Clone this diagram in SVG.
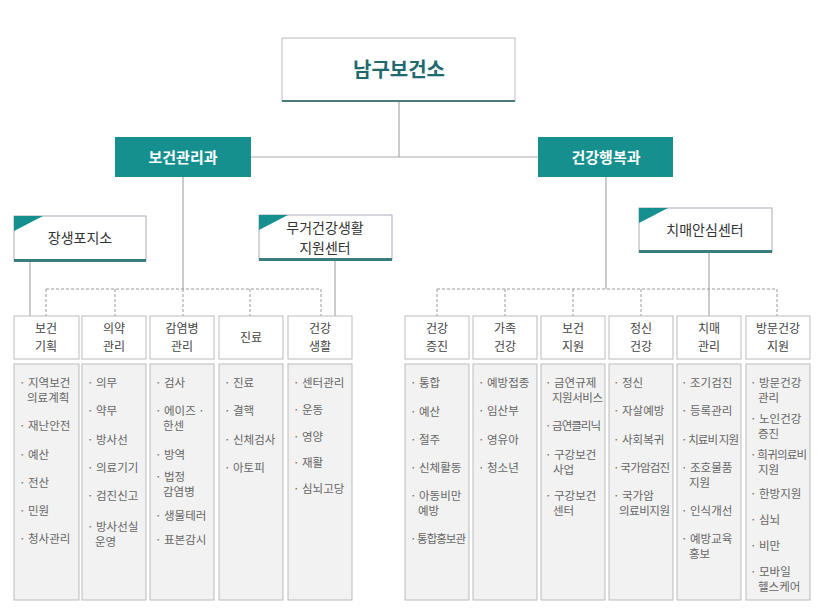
<svg xmlns="http://www.w3.org/2000/svg" width="821" height="610" viewBox="0 0 821 610">
<style>
text{font-family:"Noto Sans CJK KR","Noto Sans",sans-serif}
.ln{stroke:#aaa;stroke-width:1.2;fill:none}
.dl{stroke:#999;stroke-width:1;stroke-dasharray:3,2;fill:none}
.hd{fill:#fff;stroke:#bbb;stroke-width:1}
.ls{fill:#f2f2f2;stroke:#bbb;stroke-width:1}
.ht{font-size:12px;fill:#444;text-anchor:middle}
.it{font-size:11.5px;fill:#666}
.dept{fill:#15908f}
.dt{font-size:15px;fill:#fff;text-anchor:middle;font-weight:bold}
.sc{fill:#fff;stroke:#aab;stroke-width:1}
.st{font-size:14px;fill:#333;text-anchor:middle}
</style>
<rect width="821" height="610" fill="#fff"/>
<g id="connectors">
<path class="ln" d="M399 101V157M251 157H538M183 177V289M606 177V289M30 261V316M335 260V316M709 252V316"/>
<path class="dl" d="M46 289H321M46 289V316M115 289V316M183 289V316M250 289V316M321 289V316"/>
<path class="dl" d="M437 289H777M437 289V316M505 289V316M573 289V316M641 289V316M777 289V316"/>
</g>
<g id="root"><rect x="282" y="38" width="233" height="63" fill="#fff" stroke="#bbb"/><line x1="282" y1="101" x2="515" y2="101" stroke="#4a7a7a" stroke-width="2"/><text x="399" y="77" font-size="20" font-weight="bold" fill="#1f6a6e" text-anchor="middle">남구보건소</text></g>
<g id="dept1"><rect class="dept" x="115" y="137" width="136" height="40"/><text class="dt" x="183" y="163">보건관리과</text></g>
<g id="dept2"><rect class="dept" x="538" y="137" width="135" height="40"/><text class="dt" x="606" y="163">건강행복과</text></g>
<g id="center1"><rect class="sc" x="14" y="216" width="132" height="45"/><rect x="14" y="259" width="132" height="3" fill="#3b7c7c"/><path d="M14 216H43L14 231Z" fill="#15908f"/><text class="st" x="80" y="243">장생포지소</text></g>
<g id="center2"><rect class="sc" x="259" y="215" width="133" height="45"/><rect x="259" y="258" width="133" height="3" fill="#3b7c7c"/><path d="M259 215H288L259 230Z" fill="#15908f"/><text class="st" x="325" y="233" font-size="13.5">무거건강생활</text><text class="st" x="325" y="253" font-size="13.5">지원센터</text></g>
<g id="center3"><rect class="sc" x="639" y="208" width="133" height="44"/><rect x="639" y="250" width="133" height="3" fill="#3b7c7c"/><path d="M639 208H668L639 223Z" fill="#15908f"/><text class="st" x="705" y="235">치매안심센터</text></g>

<g id="t1"><rect class="hd" x="14" y="316" width="65" height="43"/><text class="ht" x="46" y="333">보건</text><text class="ht" x="46" y="351">기획</text>
<rect class="ls" x="14" y="364" width="65" height="236"/>
<text class="it" x="19" y="387">· 지역보건</text><text class="it" x="27" y="402">의료계획</text><text class="it" x="19" y="430">· 재난안전</text><text class="it" x="19" y="459">· 예산</text><text class="it" x="19" y="487">· 전산</text><text class="it" x="19" y="515">· 민원</text><text class="it" x="19" y="543">· 청사관리</text></g>
<g id="t2"><rect class="hd" x="82" y="316" width="64" height="43"/><text class="ht" x="114" y="333">의약</text><text class="ht" x="114" y="351">관리</text>
<rect class="ls" x="82" y="364" width="64" height="236"/>
<text class="it" x="87" y="387">· 의무</text><text class="it" x="87" y="415">· 약무</text><text class="it" x="87" y="444">· 방사선</text><text class="it" x="87" y="472">· 의료기기</text><text class="it" x="87" y="500">· 검진신고</text><text class="it" x="87" y="531">· 방사선실</text><text class="it" x="95" y="546">운영</text></g>
<g id="t3"><rect class="hd" x="150" y="316" width="64" height="43"/><text class="ht" x="182" y="333">감염병</text><text class="ht" x="182" y="351">관리</text>
<rect class="ls" x="150" y="364" width="64" height="236"/>
<text class="it" x="155" y="387">· 검사</text><text class="it" x="155" y="415">· 에이즈 ·</text><text class="it" x="163" y="430">한센</text><text class="it" x="155" y="459">· 방역</text><text class="it" x="155" y="481">· 법정</text><text class="it" x="163" y="496">감염병</text><text class="it" x="155" y="520">· 생물테러</text><text class="it" x="155" y="544">· 표본감시</text></g>
<g id="t4"><rect class="hd" x="219" y="316" width="64" height="43"/><text class="ht" x="251" y="342">진료</text>
<rect class="ls" x="219" y="364" width="64" height="236"/>
<text class="it" x="224" y="387">· 진료</text><text class="it" x="224" y="415">· 결핵</text><text class="it" x="224" y="444">· 신체검사</text><text class="it" x="224" y="472">· 아토피</text></g>
<g id="t5"><rect class="hd" x="288" y="316" width="64" height="43"/><text class="ht" x="320" y="333">건강</text><text class="ht" x="320" y="351">생활</text>
<rect class="ls" x="288" y="364" width="64" height="236"/>
<text class="it" x="293" y="387">· 센터관리</text><text class="it" x="293" y="414">· 운동</text><text class="it" x="293" y="441">· 영양</text><text class="it" x="293" y="467">· 재활</text><text class="it" x="293" y="493">· 심뇌고당</text></g>

<g id="t6"><rect class="hd" x="405" y="316" width="64" height="43"/><text class="ht" x="437" y="333">건강</text><text class="ht" x="437" y="351">증진</text>
<rect class="ls" x="405" y="364" width="64" height="236"/>
<text class="it" x="410" y="387">· 통합</text><text class="it" x="410" y="416">· 예산</text><text class="it" x="410" y="444">· 절주</text><text class="it" x="410" y="472">· 신체활동</text><text class="it" x="410" y="500">· 아동비만</text><text class="it" x="418" y="515">예방</text><text class="it" x="410" y="543" textLength="56">· 통합홍보관</text></g>
<g id="t7"><rect class="hd" x="473" y="316" width="64" height="43"/><text class="ht" x="505" y="333">가족</text><text class="ht" x="505" y="351">건강</text>
<rect class="ls" x="473" y="364" width="64" height="236"/>
<text class="it" x="478" y="387">· 예방접종</text><text class="it" x="478" y="415">· 임산부</text><text class="it" x="478" y="444">· 영유아</text><text class="it" x="478" y="472">· 청소년</text></g>
<g id="t8"><rect class="hd" x="541" y="316" width="64" height="43"/><text class="ht" x="573" y="333">보건</text><text class="ht" x="573" y="351">지원</text>
<rect class="ls" x="541" y="364" width="64" height="236"/>
<text class="it" x="545" y="387">· 금연규제</text><text class="it" x="552" y="402" textLength="51">지원서비스</text><text class="it" x="545" y="430" textLength="56">· 금연클리닉</text><text class="it" x="545" y="459">· 구강보건</text><text class="it" x="553" y="474">사업</text><text class="it" x="545" y="500">· 구강보건</text><text class="it" x="553" y="515">센터</text></g>
<g id="t9"><rect class="hd" x="609" y="316" width="64" height="43"/><text class="ht" x="641" y="333">정신</text><text class="ht" x="641" y="351">건강</text>
<rect class="ls" x="609" y="364" width="64" height="236"/>
<text class="it" x="613" y="387">· 정신</text><text class="it" x="613" y="415">· 자살예방</text><text class="it" x="613" y="444">· 사회복귀</text><text class="it" x="613" y="472" textLength="57">· 국가암검진</text><text class="it" x="613" y="500">· 국가암</text><text class="it" x="619" y="515" textLength="51">의료비지원</text></g>
<g id="t10"><rect class="hd" x="677" y="316" width="64" height="43"/><text class="ht" x="709" y="333">치매</text><text class="ht" x="709" y="351">관리</text>
<rect class="ls" x="677" y="364" width="64" height="236"/>
<text class="it" x="681" y="387">· 조기검진</text><text class="it" x="681" y="415">· 등록관리</text><text class="it" x="681" y="444" textLength="58">· 치료비 지원</text><text class="it" x="681" y="472">· 조호물품</text><text class="it" x="689" y="487">지원</text><text class="it" x="681" y="515">· 인식개선</text><text class="it" x="681" y="543">· 예방교육</text><text class="it" x="689" y="558">홍보</text></g>
<g id="t11"><rect class="hd" x="746" y="316" width="64" height="43"/><text class="ht" x="778" y="333">방문건강</text><text class="ht" x="778" y="351">지원</text>
<rect class="ls" x="746" y="364" width="64" height="236"/>
<text class="it" x="750" y="387">· 방문건강</text><text class="it" x="758" y="402">관리</text><text class="it" x="750" y="423">· 노인건강</text><text class="it" x="758" y="438">증진</text><text class="it" x="750" y="459" textLength="57">· 희귀의료비</text><text class="it" x="758" y="474">지원</text><text class="it" x="750" y="498">· 한방지원</text><text class="it" x="750" y="524">· 심뇌</text><text class="it" x="750" y="550">· 비만</text><text class="it" x="750" y="576">· 모바일</text><text class="it" x="758" y="591">헬스케어</text></g>
</svg>
